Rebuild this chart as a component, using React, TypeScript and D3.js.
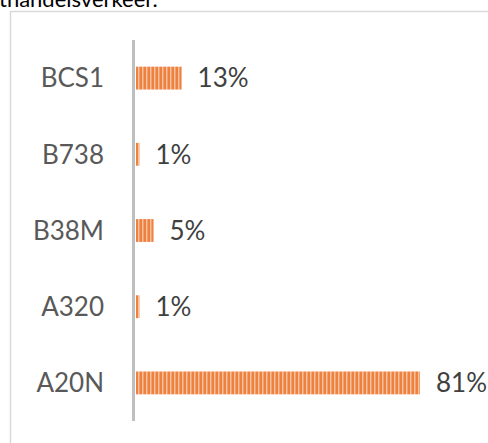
import React, { useEffect, useRef } from 'react';
import * as d3 from 'd3';

const categories = ['BCS1', 'B738', 'B38M', 'A320', 'A20N'];
const shares = [0.13, 0.01, 0.05, 0.01, 0.81];
const captionText = 'thandelsverkeer.';

const App = () => {
  const svgRef = useRef<SVGSVGElement>(null);

  useEffect(() => {
    const width = 488;
    const height = 443;
    const svg = d3.select(svgRef.current);
    svg.selectAll('*').remove(); // start clean

    svg.attr('width', width).attr('height', height);

    // striped orange fill
    const defs = svg.append('defs');
    const pat = defs.append('pattern')
      .attr('id', 'stripes')
      .attr('patternUnits', 'userSpaceOnUse')
      .attr('width', 4)
      .attr('height', 10);
    pat.append('rect').attr('width', 4).attr('height', 10).attr('fill', '#EE8140');
    pat.append('rect').attr('x', 2).attr('width', 1.5).attr('height', 10).attr('fill', '#F7C29C');

    // text cut off above the frame
    svg.append('text')
      .attr('x', -1)
      .attr('y', 7)
      .attr('font-family', 'Lato, sans-serif')
      .attr('font-size', 22)
      .attr('fill', '#000')
      .text(captionText);

    // chart frame (left + top edges visible)
    svg.append('path')
      .attr('d', `M10.5,${height} V11.5 H${width}`)
      .attr('fill', 'none')
      .attr('stroke', '#D9D9D9')
      .attr('stroke-width', 1.5);

    const y = d3.scaleBand()
      .domain(categories)
      .range([40, 421])
      .paddingInner(0.7)
      .paddingOuter(0.35);

    const x = d3.scaleLinear()
      .domain([0, 0.81])
      .range([136, 420]);

    const fmt = d3.format('.0%');

    svg.append('g')
      .selectAll('rect')
      .data(shares)
      .enter()
      .append('rect')
      .attr('x', x(0))
      .attr('y', (d, i) => y(categories[i]))
      .attr('width', d => x(d) - x(0))
      .attr('height', y.bandwidth())
      .attr('fill', 'url(#stripes)');

    // category axis
    svg.append('line')
      .attr('x1', 133.5).attr('x2', 133.5)
      .attr('y1', 40).attr('y2', 421)
      .attr('stroke', '#BFBFBF')
      .attr('stroke-width', 3);

    svg.append('g')
      .selectAll('text')
      .data(categories)
      .enter()
      .append('text')
      .attr('x', 104)
      .attr('y', d => y(d) + y.bandwidth() / 2)
      .attr('dy', '0.36em')
      .attr('text-anchor', 'end')
      .attr('font-family', 'Lato, sans-serif')
      .attr('font-size', 26)
      .attr('fill', '#595959')
      .text(d => d);

    svg.append('g')
      .selectAll('text')
      .data(shares)
      .enter()
      .append('text')
      .attr('x', d => x(d) + 16)
      .attr('y', (d, i) => y(categories[i]) + y.bandwidth() / 2)
      .attr('dy', '0.36em')
      .attr('font-family', 'Lato, sans-serif')
      .attr('font-size', 26)
      .attr('fill', '#404040')
      .text(d => fmt(d));
  }, []);

  return (
    <svg
      ref={svgRef}
      style={{ position: 'absolute', left: 0, top: 0, display: 'block' }}
    ></svg>
  );
};

export default App;
